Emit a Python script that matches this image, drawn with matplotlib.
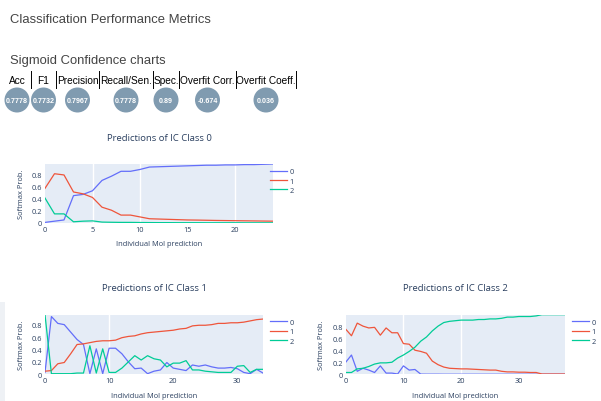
import matplotlib
matplotlib.use('Agg')
import matplotlib.pyplot as plt
from matplotlib.patches import Circle, Rectangle
import numpy as np

# ---- data ----
metric_names = ['Acc', 'F1', 'Precision', 'Recall/Sen.', 'Spec.', 'Overfit Corr.', 'Overfit Coeff.']
metric_values = ['0.7778', '0.7732', '0.7967', '0.7778', '0.89', '-0.674', '0.036']

c0_p0 = [0.01, 0.03, 0.05, 0.45, 0.47, 0.53, 0.70, 0.77, 0.85, 0.85, 0.88, 0.92, 0.925,
         0.93, 0.935, 0.94, 0.945, 0.95, 0.95, 0.955, 0.955, 0.96, 0.96, 0.965, 0.97]
c0_p1 = [0.57, 0.81, 0.79, 0.51, 0.48, 0.42, 0.26, 0.21, 0.13, 0.13, 0.10, 0.07, 0.065,
         0.06, 0.055, 0.05, 0.048, 0.045, 0.042, 0.04, 0.038, 0.036, 0.034, 0.032, 0.03]
c0_p2 = [0.41, 0.15, 0.15, 0.02, 0.03, 0.035, 0.015, 0.012, 0.01, 0.01, 0.008, 0.007, 0.006,
         0.006, 0.005, 0.005, 0.005, 0.004, 0.004, 0.004, 0.004, 0.003, 0.003, 0.003, 0.003]

c1_p0 = [0.03, 0.93, 0.82, 0.80, 0.68, 0.56, 0.48, 0.01, 0.41, 0.01, 0.42, 0.42, 0.33,
         0.20, 0.09, 0.10, 0.01, 0.05, 0.07, 0.19, 0.10, 0.08, 0.06, 0.15, 0.13, 0.15,
         0.12, 0.10, 0.10, 0.11, 0.09, 0.03, 0.01, 0.08, 0.02]
c1_p1 = [0.05, 0.06, 0.17, 0.19, 0.33, 0.48, 0.49, 0.51, 0.53, 0.54, 0.54, 0.55, 0.59,
         0.61, 0.62, 0.65, 0.67, 0.68, 0.69, 0.70, 0.71, 0.73, 0.74, 0.78, 0.79, 0.79,
         0.80, 0.82, 0.82, 0.83, 0.83, 0.84, 0.86, 0.88, 0.89]
c1_p2 = [0.96, 0.01, 0.01, 0.01, 0.01, 0.02, 0.02, 0.46, 0.02, 0.41, 0.03, 0.03, 0.10,
         0.20, 0.30, 0.23, 0.30, 0.25, 0.23, 0.12, 0.18, 0.18, 0.22, 0.07, 0.07, 0.05,
         0.04, 0.03, 0.03, 0.03, 0.13, 0.14, 0.03, 0.08, 0.08]

c2_p0 = [0.20, 0.32, 0.05, 0.10, 0.07, 0.03, 0.14, 0.02, 0.02, 0.005, 0.14, 0.07, 0.08,
         0.003, 0.002, 0.002, 0.002, 0.001, 0.001, 0.001, 0.001, 0.001, 0.001, 0.001,
         0.001, 0.001, 0.001, 0.001, 0.001, 0.001, 0.001, 0.001, 0.001, 0.001, 0.001,
         0.001, 0.001, 0.001, 0.001]
c2_p1 = [0.75, 0.64, 0.85, 0.80, 0.77, 0.78, 0.65, 0.77, 0.69, 0.69, 0.51, 0.50, 0.40,
         0.38, 0.35, 0.22, 0.16, 0.12, 0.10, 0.095, 0.09, 0.09, 0.085, 0.08, 0.075,
         0.07, 0.07, 0.05, 0.04, 0.04, 0.035, 0.035, 0.03, 0.03, 0.005, 0.005, 0.005,
         0.005, 0.005]
c2_p2 = [0.03, 0.03, 0.09, 0.10, 0.13, 0.17, 0.19, 0.19, 0.20, 0.27, 0.32, 0.38, 0.45,
         0.55, 0.62, 0.72, 0.80, 0.86, 0.88, 0.89, 0.90, 0.90, 0.90, 0.91, 0.91, 0.92,
         0.92, 0.93, 0.95, 0.95, 0.96, 0.96, 0.96, 0.97, 0.99, 0.99, 0.99, 0.99, 0.99]

charts = [('Predictions of IC Class 0', [c0_p0, c0_p1, c0_p2], [0, 5, 10, 15, 20], [5, 10, 20]),
          ('Predictions of IC Class 1', [c1_p0, c1_p1, c1_p2], [0, 10, 20, 30], [10]),
          ('Predictions of IC Class 2', [c2_p0, c2_p1, c2_p2], [0, 10, 20, 30], [10, 20])]

# ---- style ----
W, H = 601, 402
colors = ['#636efa', '#EF553B', '#00cc96']
txt = '#2a3f5f'
plt.rcParams['font.family'] = ['Open Sans', 'DejaVu Sans']

fig = plt.figure(figsize=(W / 100, H / 100), dpi=100)

# page background / header in pixel coords
bg = fig.add_axes([0, 0, 1, 1])
bg.set_xlim(0, W)
bg.set_ylim(H, 0)
bg.axis('off')
bg.add_patch(Rectangle((0, 303), 5, 99, color='#eef1f5', lw=0))

hfont = ['Liberation Sans', 'DejaVu Sans']
bg.text(10, 20, 'Classification Performance Metrics', fontsize=9.4, color='#444444',
        va='center', ha='left', family=hfont)
bg.text(10, 61, 'Sigmoid Confidence charts', fontsize=9.4, color='#444444',
        va='center', ha='left', family=hfont)

edges = [3, 31, 56, 99, 153, 179, 236, 296]
for i, (name, val) in enumerate(zip(metric_names, metric_values)):
    cx = (edges[i] + edges[i + 1]) / 2
    bg.text(cx, 80.5, name, fontsize=7.3, ha='center', va='center', color='black', family=hfont)
    bg.plot([edges[i + 1], edges[i + 1]], [72, 89], color='black', lw=0.7)
    bg.add_patch(Circle((cx, 101), 12.5, color='#809bb0', lw=0))
    bg.text(cx, 101.5, val, fontsize=5.1, ha='center', va='center', color='white',
            family=hfont, fontweight='bold')

boxes = [(45, 273, 165, 224), (45, 263, 315.7, 375.3), (345.7, 565, 315.7, 375.3)]
legend_x = [270, 270, 572]

for (title, series, xt, grid), (x0, x1, y0, y1), lx in zip(charts, boxes, legend_x):
    ax = fig.add_axes([x0 / W, 1 - y1 / H, (x1 - x0) / W, (y1 - y0) / H])
    ax.set_facecolor('#e5ecf6')
    for v in grid:
        ax.axvline(v, color='white', lw=1.0, zorder=0)
    n = len(series[0])
    x = np.arange(n)
    for k, (s, c) in enumerate(zip(series, colors)):
        ax.plot(x, s, color=c, lw=0.9, label=str(k))
    ax.set_xlim(0, n - 1)
    ymax = max(max(s) for s in series)
    ax.set_ylim(0, ymax)
    ax.set_xticks(xt)
    ax.set_yticks([0, 0.2, 0.4, 0.6, 0.8])
    ax.set_yticklabels(['0', '0.2', '0.4', '0.6', '0.8'])
    ax.tick_params(length=0, labelsize=5.3, labelcolor=txt, pad=2)
    for sp in ax.spines.values():
        sp.set_visible(False)
    ax.set_xlabel('Individual Mol prediction', fontsize=5.4, color=txt, labelpad=5.5)
    ax.set_ylabel('Softmax Prob.', fontsize=5.4, color=txt, labelpad=5)
    ax.set_title(title, fontsize=6.8, color=txt, pad=17.5)
    ax.legend(loc='upper left', bbox_to_anchor=(lx / W, 1 - (y0 + 4) / H),
              bbox_transform=fig.transFigure, frameon=False, fontsize=5.3,
              handlelength=2.3, handletextpad=0.35, labelspacing=0.3,
              borderpad=0, borderaxespad=0, labelcolor=txt)

fig.savefig('out.png', dpi=100)
